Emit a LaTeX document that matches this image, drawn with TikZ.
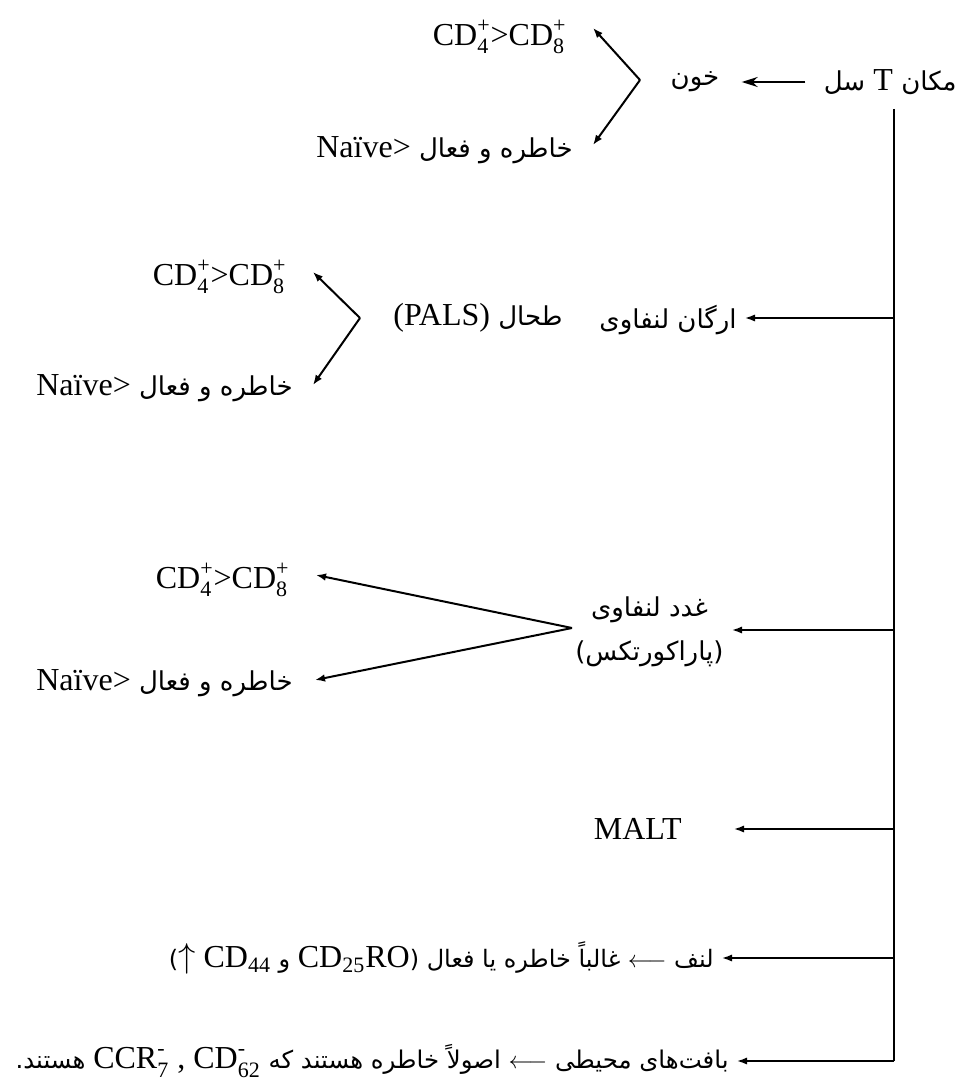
\documentclass[tikz,border=0pt]{standalone}
\usepackage{fontspec}
\setmainfont{Liberation Serif}
\newfontfamily\arabicfont[Script=Arabic]{DejaVu Sans}
\usetikzlibrary{arrows.meta}
\TeXXeTstate=1
% latin run inside a right-to-left line
\newcommand{\lat}[1]{\beginL{\rmfamily\fontsize{16}{19}\selectfont #1}\endL}
% small serif index text for super- and subscripts
\newcommand{\ixt}[1]{\mbox{\rmfamily\fontsize{11}{11}\selectfont #1}}
\newcommand{\supsb}[2]{\ensuremath{^{\ixt{#1}}_{\ixt{#2}}}}
\newcommand{\subix}[1]{\ensuremath{_{\ixt{#1}}}}

\begin{document}
\begin{tikzpicture}[x=0.5pt, y=-0.5pt,
  lbl/.style={font=\fontsize{16}{19}\selectfont, inner sep=4pt},
  fa/.style={font=\fontsize{13}{22}\selectfont\arabicfont, inner sep=4pt},
  trunk/.style={line width=1.1pt},
  arr/.style={line width=0.8pt, -{Latex[length=5pt, width=3.6pt]}},
  forkarr/.style={line width=1pt, -{Latex[length=5pt, width=3.8pt]}},
  toparr/.style={line width=1pt, -{Stealth[length=8pt, width=5pt]}},
]
\useasboundingbox (0,0) rectangle (965,1081);
% ---- header: T cell location -> blood ----
\node[fa, anchor=east] (title) at (965,82) {\beginR مکان \lat{T} سل\endR};
\node[fa] (blood) at (695,82) {\beginR خون\endR};
\draw[toparr, shorten <=5pt, shorten >=7pt] (title) -- (blood);
\coordinate (fk1) at (640,80);
\node[lbl, anchor=east] (cdA) at (575,37) {CD\supsb{+}{4}>CD\supsb{+}{8}};
\node[fa, anchor=east] (navA) at (581,150) {\beginR خاطره و فعال \lat{Naïve>}\endR};
\draw[forkarr] (fk1) -- ([shift={(18,-9)}]cdA.east);
\draw[forkarr] (fk1) -- ([shift={(12,-5)}]navA.east);
% ---- trunk ----
\coordinate (t0) at (894,109);
\coordinate (j2) at (894,318);
\coordinate (j3) at (894,630);
\coordinate (j4) at (894,829);
\coordinate (j5) at (894,958);
\coordinate (j6) at (894,1061);
\draw[trunk] (t0) -- (j6);
% ---- lymphoid organ / spleen ----
\node[fa, anchor=east] (organ) at (745,320) {\beginR ارگان لنفاوی\endR};
\draw[arr] (j2) -- (organ.east |- j2);
\node[fa, anchor=west] (spleen) at (385,318) {\beginR طحال \lat{(PALS)}\endR};
\coordinate (fk2) at (360,318);
\node[lbl, anchor=east] (cdB) at (295,277) {CD\supsb{+}{4}>CD\supsb{+}{8}};
\node[fa, anchor=east] (navB) at (301,388) {\beginR خاطره و فعال \lat{Naïve>}\endR};
\draw[forkarr] (fk2) -- ([shift={(18,-5)}]cdB.east);
\draw[forkarr] (fk2) -- ([shift={(12,-3)}]navB.east);
% ---- lymph node (paracortex) ----
\node[fa, anchor=east, align=center] (gland) at (732,632)
  {\beginR غدد لنفاوی\endR\\\beginR(پاراکورتکس)\endR};
\draw[arr] (j3) -- (gland.east |- j3);
\coordinate (fk3) at (572,628);
\node[lbl, anchor=east] (cdC) at (298,580) {CD\supsb{+}{4}>CD\supsb{+}{8}};
\node[fa, anchor=east] (navC) at (301,683) {\beginR خاطره و فعال \lat{Naïve>}\endR};
\draw[forkarr] (fk3) -- ([shift={(18,-5)}]cdC.east);
\draw[forkarr] (fk3) -- ([shift={(14,-3)}]navC.east);
% ---- MALT, lymph, peripheral tissues ----
\node[lbl, anchor=east] (malt) at (690,829) {MALT};
\draw[arr] (j4) -- ([xshift=22pt]malt.east |- j4);
\node[fa, anchor=east, font=\fontsize{12}{22}\selectfont\arabicfont] (lymph) at (722,958)
  {\beginR لنف $\longleftarrow$ غالباً خاطره یا فعال (\lat{CD\subix{25}RO} و \lat{$\uparrow$ CD\subix{44}})\endR};
\draw[arr] (j5) -- (lymph.east |- j5);
\node[fa, anchor=east, font=\fontsize{12.2}{22}\selectfont\arabicfont] (periph) at (737,1061)
  {\beginR بافت‌های محیطی $\longleftarrow$ اصولاً خاطره هستند که \lat{CCR\supsb{-}{7} , CD\supsb{-}{62}} هستند.\endR};
\draw[arr] (j6) -- (periph.east |- j6);
\end{tikzpicture}
\end{document}
